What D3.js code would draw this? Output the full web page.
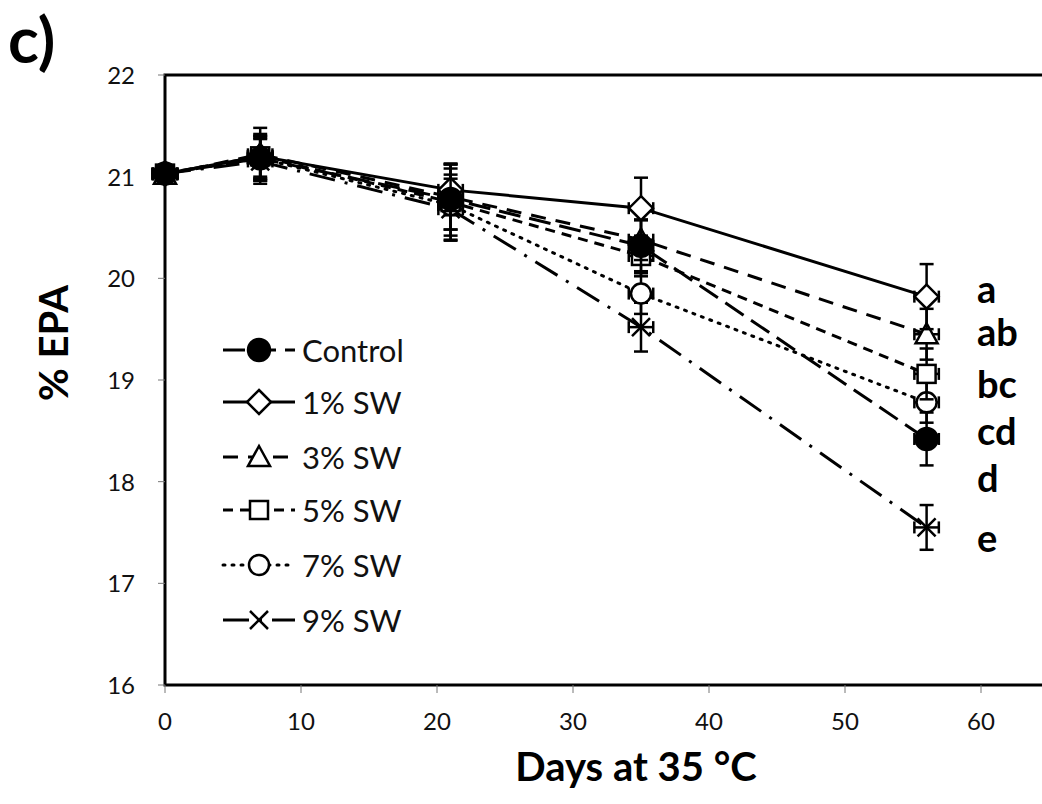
<!DOCTYPE html>
<html>
<head>
<meta charset="utf-8">
<script src="https://cdn.jsdelivr.net/npm/d3@7"></script>
<style>
  body { margin: 0; background: #fff; }
  svg { display: block; font-family: Lato, "Open Sans", sans-serif; }
</style>
</head>
<body>
<div id="chart"></div>
<script>
const days = [0, 7, 21, 35, 56];
const seriesNames = ["Control", "1% SW", "3% SW", "5% SW", "7% SW", "9% SW"];
const control = [21.03, 21.18, 20.78, 20.32, 18.42];
const sw1 = [21.03, 21.20, 20.87, 20.69, 19.82];
const sw3 = [21.02, 21.22, 20.80, 20.38, 19.45];
const sw5 = [21.03, 21.20, 20.75, 20.22, 19.06];
const sw7 = [21.03, 21.18, 20.72, 19.85, 18.78];
const sw9 = [21.03, 21.15, 20.68, 19.52, 17.55];
const errControl = [0.05, 0.22, 0.30, 0.25, 0.26];
const err1 = [0.04, 0.20, 0.25, 0.30, 0.32];
const err3 = [0.04, 0.26, 0.32, 0.20, 0.25];
const err5 = [0.04, 0.22, 0.38, 0.20, 0.25];
const err7 = [0.04, 0.20, 0.30, 0.20, 0.20];
const err9 = [0.04, 0.22, 0.30, 0.24, 0.22];
const dayErr = 0.9;
const letters = ["a", "ab", "bc", "cd", "d", "e"];
const letterY = [19.76, 19.33, 18.82, 18.36, 17.90, 17.31];
const yTicks = [16, 17, 18, 19, 20, 21, 22];
const xTicks = [0, 10, 20, 30, 40, 50, 60];

const values = [control, sw1, sw3, sw5, sw7, sw9];
const errs = [errControl, err1, err3, err5, err7, err9];
const dashes = ["22,9", null, "15,10", "10,7", "2,7", "26,10,3,10"];
const markers = ["dot", "diamond", "triangle", "square", "circle", "cross"];

const W = 1042, H = 804;
const svg = d3.select("#chart").append("svg").attr("width", W).attr("height", H);

const x = d3.scaleLinear().domain([0, 65]).range([165, 1049]);
const y = d3.scaleLinear().domain([16, 22]).range([685, 75]);

// frame
svg.append("rect").attr("x", x(0)).attr("y", y(22))
  .attr("width", x(65) - x(0)).attr("height", y(16) - y(22))
  .attr("fill", "none").attr("stroke", "#000").attr("stroke-width", 3);

// ticks
svg.selectAll("line.yt").data(yTicks).join("line")
  .attr("x1", x(0) - 7).attr("x2", x(0)).attr("y1", d => y(d)).attr("y2", d => y(d))
  .attr("stroke", "#777").attr("stroke-width", 1);
svg.selectAll("text.yt").data(yTicks).join("text")
  .attr("x", 135).attr("y", d => y(d) + 9).attr("text-anchor", "end")
  .attr("font-size", 24).attr("fill", "#111").text(d => d);
svg.selectAll("line.xt").data(xTicks).join("line")
  .attr("x1", d => x(d)).attr("x2", d => x(d)).attr("y1", y(16)).attr("y2", y(16) + 8)
  .attr("stroke", "#777").attr("stroke-width", 1);
svg.selectAll("text.xt").data(xTicks).join("text")
  .attr("x", d => x(d)).attr("y", 730).attr("text-anchor", "middle")
  .attr("font-size", 24).attr("fill", "#111").text(d => d);

// axis titles
svg.append("text").attr("x", 636).attr("y", 781).attr("text-anchor", "middle")
  .attr("font-size", 40).attr("font-weight", "bold").text("Days at 35 °C");
svg.append("text").attr("transform", "translate(68,343) rotate(-90)").attr("text-anchor", "middle")
  .attr("font-size", 40).attr("font-weight", "bold").text("% EPA");
svg.append("text").attr("x", 8).attr("y", 63)
  .attr("font-size", 64).attr("font-weight", "bold").text("c)");

function drawMarker(g, type, cx, cy) {
  let m;
  if (type === "dot") {
    m = g.append("circle").attr("cx", cx).attr("cy", cy).attr("r", 11).attr("fill", "#000");
  } else if (type === "diamond") {
    m = g.append("path").attr("d", `M${cx},${cy - 12}L${cx + 12},${cy}L${cx},${cy + 12}L${cx - 12},${cy}Z`).attr("fill", "#fff");
  } else if (type === "triangle") {
    m = g.append("path").attr("d", `M${cx},${cy - 11}L${cx + 11},${cy + 9}L${cx - 11},${cy + 9}Z`).attr("fill", "#fff");
  } else if (type === "square") {
    m = g.append("rect").attr("x", cx - 9).attr("y", cy - 9).attr("width", 18).attr("height", 18).attr("fill", "#fff");
  } else if (type === "circle") {
    m = g.append("circle").attr("cx", cx).attr("cy", cy).attr("r", 10).attr("fill", "#fff");
  } else {
    m = g.append("path").attr("d", `M${cx - 9},${cy - 9}L${cx + 9},${cy + 9}M${cx - 9},${cy + 9}L${cx + 9},${cy - 9}`).attr("fill", "none");
  }
  m.attr("stroke", "#000").attr("stroke-width", 2.5);
}

const line = d3.line().x(d => x(d[0])).y(d => y(d[1]));

// draw series in reverse so control ends on top
d3.range(values.length).reverse().forEach(i => {
  const pts = days.map((d, j) => [d, values[i][j]]);
  const g = svg.append("g");
  g.append("path").attr("d", line(pts)).attr("fill", "none").attr("stroke", "#000")
    .attr("stroke-width", 3).attr("stroke-dasharray", dashes[i])
    .attr("stroke-linecap", i === 4 ? "round" : "butt");
  pts.forEach((p, j) => {
    const cx = x(p[0]), cy = y(p[1]);
    const e = errs[i][j];
    const eb = g.append("g").attr("stroke", "#000").attr("stroke-width", 2.5);
    eb.append("line").attr("x1", cx).attr("x2", cx).attr("y1", y(p[1] - e)).attr("y2", y(p[1] + e));
    eb.append("line").attr("x1", cx - 7).attr("x2", cx + 7).attr("y1", y(p[1] - e)).attr("y2", y(p[1] - e));
    eb.append("line").attr("x1", cx - 7).attr("x2", cx + 7).attr("y1", y(p[1] + e)).attr("y2", y(p[1] + e));
    eb.append("line").attr("x1", x(p[0] - dayErr)).attr("x2", x(p[0] + dayErr)).attr("y1", cy).attr("y2", cy);
    eb.append("line").attr("x1", x(p[0] - dayErr)).attr("x2", x(p[0] - dayErr)).attr("y1", cy - 6).attr("y2", cy + 6);
    eb.append("line").attr("x1", x(p[0] + dayErr)).attr("x2", x(p[0] + dayErr)).attr("y1", cy - 6).attr("y2", cy + 6);
    drawMarker(g, markers[i], cx, cy);
  });
});

// significance letters
svg.selectAll("text.sig").data(letters).join("text")
  .attr("x", 977).attr("y", (d, i) => y(letterY[i]))
  .attr("font-size", 38).attr("font-weight", "bold").text(d => d);

// legend
const legendY = [350, 402, 457, 510, 565, 620];
const leg = svg.append("g");
seriesNames.forEach((name, i) => {
  const ly = legendY[i];
  leg.append("line").attr("x1", 223).attr("x2", 295).attr("y1", ly).attr("y2", ly)
    .attr("stroke", "#000").attr("stroke-width", 3).attr("stroke-dasharray", dashes[i])
    .attr("stroke-linecap", i === 4 ? "round" : "butt");
  drawMarker(leg, markers[i], 259, ly);
  leg.append("text").attr("x", 302).attr("y", ly + 12).attr("font-size", 31).attr("fill", "#111").text(name);
});
</script>
</body>
</html>
